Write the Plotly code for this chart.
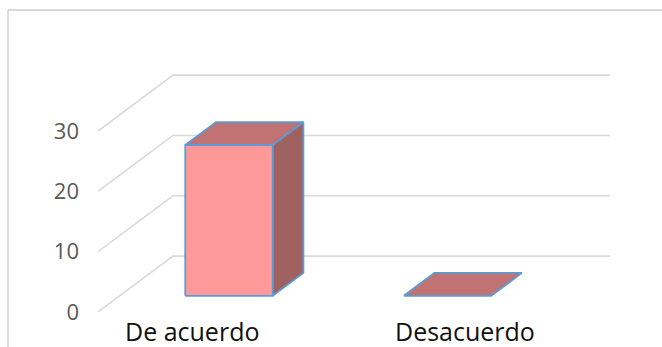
import plotly.graph_objects as go

# Survey answers
categories = ["De acuerdo", "Desacuerdo"]
counts = [25, 0]
tick_values = [0, 10, 20, 30]

# Oblique projection used to fake a 3-D column chart
DX = 0.343      # horizontal shift of the back wall, in category units
DY = 9.26       # vertical shift of the back wall, in value units
BAR_W = 0.40    # column width, in category units
D_FRONT, D_BACK = 0.29, 0.70   # column depth inside the floor (0 = front, 1 = back)

FRONT = "#FF9999"
TOP = "#C07372"
SIDE = "#A06261"
EDGE = "#5B9BD5"
GRID = "#D9D9D9"


def proj(c, v, d):
    return c + d * DX, v + d * DY


def poly(points, color):
    xs, ys = zip(*[proj(*p) for p in points])
    return go.Scatter(
        x=list(xs) + [xs[0]], y=list(ys) + [ys[0]],
        mode="lines", fill="toself", fillcolor=color,
        line=dict(color=EDGE, width=1.8), hoverinfo="skip", showlegend=False,
    )


fig = go.Figure()

# Gridlines: slanted floor/side part plus the horizontal back-wall part
left_edge = -0.5
right_edge = len(categories) - 0.5
for v in tick_values:
    pts = [proj(left_edge, v, 0), proj(left_edge, v, 1), proj(right_edge, v, 1)]
    fig.add_trace(go.Scatter(
        x=[p[0] for p in pts], y=[p[1] for p in pts], mode="lines",
        line=dict(color=GRID, width=1.6), hoverinfo="skip", showlegend=False,
    ))

# Columns
for i, v in enumerate(counts):
    x0, x1 = i - BAR_W / 2, i + BAR_W / 2
    if v > 0:
        fig.add_trace(poly([(x1, 0, D_FRONT), (x1, 0, D_BACK), (x1, v, D_BACK), (x1, v, D_FRONT)], SIDE))
        fig.add_trace(poly([(x0, 0, D_FRONT), (x1, 0, D_FRONT), (x1, v, D_FRONT), (x0, v, D_FRONT)], FRONT))
    fig.add_trace(poly([(x0, v, D_FRONT), (x1, v, D_FRONT), (x1, v, D_BACK), (x0, v, D_BACK)], TOP))

# Category labels
label_shift = [-15, 39]
for i, name in enumerate(categories):
    fig.add_annotation(
        x=i, y=0, xref="x", yref="y", text=name, showarrow=False,
        xanchor="center", yanchor="middle", xshift=label_shift[i], yshift=-19,
        font=dict(family="Open Sans", size=25, color="#111111"),
    )

W, H = 662, 347
ML, MR, MT, MB = 98, 0, 10, 35
px_per_cat = 218.5
px_per_val = 6.033
x_range = [left_edge, left_edge + (W - ML - MR) / px_per_cat]
y_range = [0, (H - MT - MB) / px_per_val]

# Chart frame (top and left borders)
fx = -(ML - 8) / (W - ML - MR)
fig.add_shape(type="line", xref="paper", yref="paper", x0=fx, x1=1.2, y0=1, y1=1,
              line=dict(color=GRID, width=1.8))
fig.add_shape(type="line", xref="paper", yref="paper", x0=fx, x1=fx, y0=1, y1=-0.3,
              line=dict(color=GRID, width=1.8))

fig.update_layout(
    width=W, height=H,
    margin=dict(l=ML, r=MR, t=MT, b=MB),
    paper_bgcolor="white", plot_bgcolor="white",
    xaxis=dict(range=x_range, visible=False, fixedrange=True),
    yaxis=dict(
        range=y_range, tickvals=tick_values, showgrid=False, zeroline=False,
        showline=False, ticks="", ticklabelstandoff=18,
        tickfont=dict(family="Open Sans", size=22, color="#595959"),
        fixedrange=True,
    ),
)

fig.write_html("out.html")
